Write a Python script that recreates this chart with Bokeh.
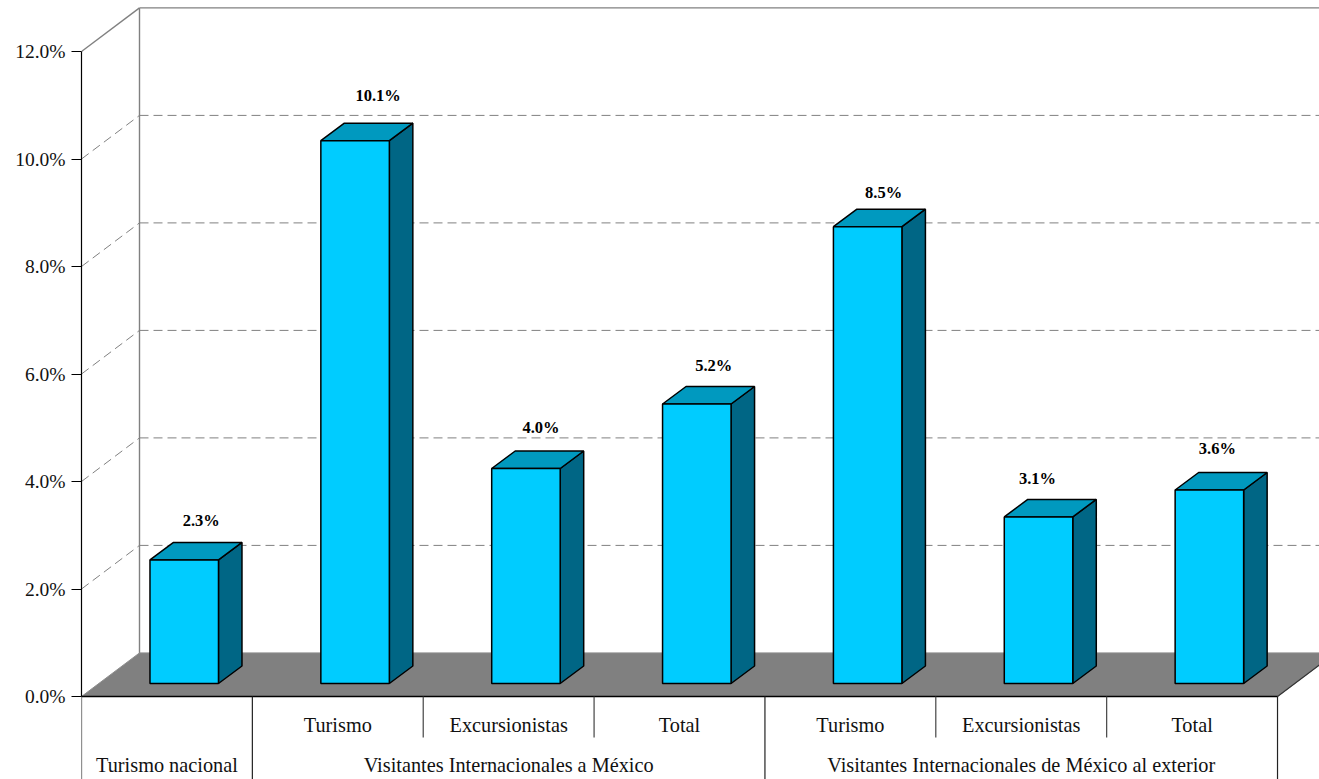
from bokeh.plotting import figure
from bokeh.models import ColumnDataSource, FixedTicker, PrintfTickFormatter, Range1d
from bokeh.embed import file_html
from bokeh.resources import INLINE
from bokeh.core.properties import value

# ---- data ----
bar_values = [2.3, 10.1, 4.0, 5.2, 8.5, 3.1, 3.6]
sub_labels = ["", "Turismo", "Excursionistas", "Total", "Turismo", "Excursionistas", "Total"]
group_labels = ["Turismo nacional", "Visitantes Internacionales a México",
                "Visitantes Internacionales de México al exterior"]
group_spans = [(0, 1), (1, 4), (4, 7)]
y_ticks = [0, 2, 4, 6, 8, 10, 12]
# hand placed value labels: pixel offsets
label_dx = [17, 23, 15, 17, 16, -1, 8]
label_dy = [39, 45, 41, 39, 34, 38, 42]

# ---- geometry ----
W, H = 1319, 779
LEFT = 81
PX_X = 170.86          # px per category
PX_Y = 53.75           # px per 1 %
Y0_PX = 696
WALL_DX, WALL_DY = 58 / PX_X, 43.6 / PX_Y
BAR_OFF_X, BAR_OFF_Y = 17.3 / PX_X, 13 / PX_Y
BAR_W = 68.5 / PX_X
BAR_DX, BAR_DY = 23.5 / PX_X, 17.5 / PX_Y
N = len(bar_values)
TOP = y_ticks[-1]
SUB_Y = -(724.3 - Y0_PX) / PX_Y
GROUP_Y = -(764.5 - Y0_PX) / PX_Y
SHORT_Y = -(737 - Y0_PX) / PX_Y

x_end = (W - LEFT) / PX_X
y_end = Y0_PX / PX_Y
y_start = -(H - Y0_PX) / PX_Y

SERIF = "Liberation Serif"
GRAY = "#808080"

p = figure(width=W, height=H, output_backend="svg", toolbar_location=None,
           x_range=Range1d(0, x_end), y_range=Range1d(y_start, y_end),
           x_axis_location=None, y_axis_location="left",
           min_border_left=LEFT, min_border_right=0, min_border_top=0, min_border_bottom=0,
           outline_line_color=None, background_fill_color="white")
p.grid.visible = False

ax = p.yaxis[0]
ax.ticker = FixedTicker(ticks=y_ticks)
ax.formatter = PrintfTickFormatter(format="%.1f%%")
ax.bounds = (0, TOP)
ax.axis_line_color = "black"
ax.axis_line_width = 1.2
ax.major_tick_line_color = "black"
ax.major_tick_line_width = 1.2
ax.major_tick_out = 10
ax.major_tick_in = 0
ax.minor_tick_line_color = None
ax.major_label_standoff = 6
ax.major_label_text_font = SERIF
ax.major_label_text_font_size = "19.5px"
ax.major_label_text_color = "#111111"

# back wall, top edge
p.segment([WALL_DX, 0, WALL_DX], [WALL_DY, TOP, TOP + WALL_DY],
          [WALL_DX, WALL_DX, x_end], [TOP + WALL_DY, TOP + WALL_DY, TOP + WALL_DY],
          line_color=GRAY, line_width=1.4)

# dashed gridlines
inner = [t for t in y_ticks if 0 < t < TOP]
p.segment([WALL_DX] * len(inner), [t + WALL_DY for t in inner],
          [x_end] * len(inner), [t + WALL_DY for t in inner],
          line_color=GRAY, line_width=1, line_dash="9 5")
p.segment([0] * len(inner), inner, [WALL_DX] * len(inner), [t + WALL_DY for t in inner],
          line_color=GRAY, line_width=1, line_dash="9 5")

# floor
p.patch([0, WALL_DX, N + WALL_DX, N], [0, WALL_DY, WALL_DY, 0],
        fill_color=GRAY, line_color="#8c8c8c", line_width=1)
p.segment([N], [0], [N + WALL_DX], [WALL_DY], line_color="#333333", line_width=1.2)

# bars
front_l = [i + 0.5 - BAR_W / 2 + BAR_OFF_X for i in range(N)]
front_r = [l + BAR_W for l in front_l]
base = BAR_OFF_Y
tops = [v + BAR_OFF_Y for v in bar_values]
top_xs = [[l, l + BAR_DX, r + BAR_DX, r] for l, r in zip(front_l, front_r)]
top_ys = [[t, t + BAR_DY, t + BAR_DY, t] for t in tops]
side_xs = [[r, r + BAR_DX, r + BAR_DX, r] for r in front_r]
side_ys = [[base, base + BAR_DY, t + BAR_DY, t] for t in tops]
p.patches(side_xs, side_ys, fill_color="#006685", line_color="black", line_width=1.5)
p.patches(top_xs, top_ys, fill_color="#0099BF", line_color="black", line_width=1.5)
p.quad(left=front_l, right=front_r, bottom=[base] * N, top=tops,
       fill_color="#00CCFF", line_color="black", line_width=1.5)

# value labels
lab = ColumnDataSource(dict(
    x=[(l + r) / 2 for l, r in zip(front_l, front_r)],
    y=tops,
    t=[f"{v:.1f}%" for v in bar_values],
    xo=label_dx,
    yo=[-d for d in label_dy],
))
p.text("x", "y", text="t", x_offset="xo", y_offset="yo", source=lab,
       text_font=value(SERIF), text_font_size="16.5px", text_font_style="bold",
       text_align="center", text_baseline="middle", text_color="black")

# floor front edge and category separators
p.segment([0], [0], [N], [0], line_color="black", line_width=1.4)
full = [a for a, b in group_spans] + [N]
short = [i for i in range(1, N) if i not in full]
p.segment(full, [0] * len(full), full, [y_start] * len(full), line_color="#222222", line_width=1.2)
p.segment(short, [0] * len(short), short, [SHORT_Y] * len(short), line_color="#444444", line_width=1.2)

# category texts
subs = [(i + 0.5, s) for i, s in enumerate(sub_labels) if s]
p.text([a for a, _ in subs], [SUB_Y] * len(subs), text=[s for _, s in subs],
       text_font=value(SERIF), text_font_size="20.3px",
       text_align="center", text_baseline="middle", text_color="#111111")
p.text([(a + b) / 2 for a, b in group_spans], [GROUP_Y] * len(group_spans), text=group_labels,
       text_font=value(SERIF), text_font_size="20.3px",
       text_align="center", text_baseline="middle", text_color="#111111")

open("out.html", "w").write(file_html(p, INLINE))
